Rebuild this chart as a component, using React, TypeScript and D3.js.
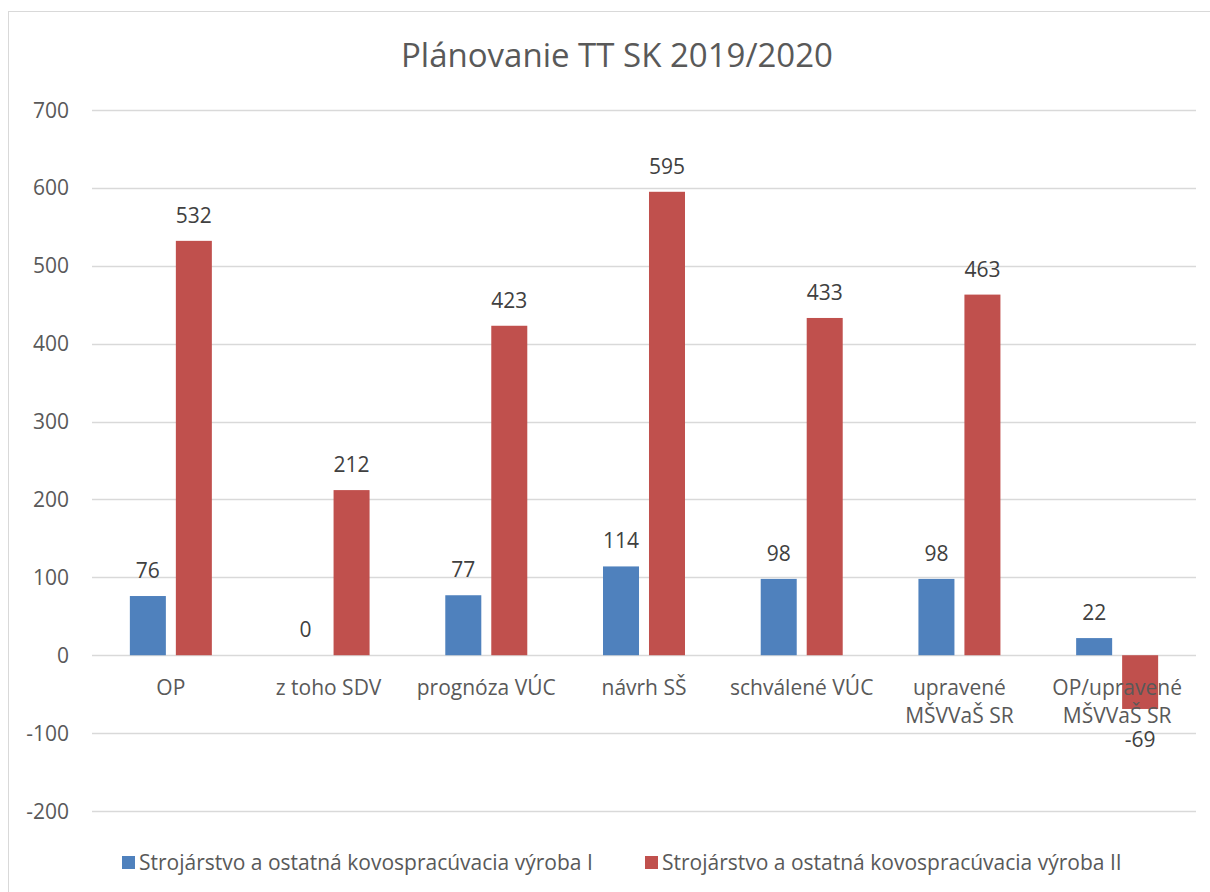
import { useEffect, useRef } from "react";
import * as d3 from "d3";

const categories = [
  ["OP"],
  ["z toho SDV"],
  ["prognóza VÚC"],
  ["návrh SŠ"],
  ["schválené VÚC"],
  ["upravené", "MŠVVaŠ SR"],
  ["OP/upravené", "MŠVVaŠ SR"],
];
const seriesNames = [
  "Strojárstvo a ostatná kovospracúvacia výroba I",
  "Strojárstvo a ostatná kovospracúvacia výroba II",
];
const seriesI = [76, 0, 77, 114, 98, 98, 22];
const seriesII = [532, 212, 423, 595, 433, 463, -69];
const yTicks = [-200, -100, 0, 100, 200, 300, 400, 500, 600, 700];

const colors = ["#4F81BD", "#C0504D"];
const font = "'Open Sans', sans-serif";

export default function App() {
  const ref = useRef<SVGSVGElement>(null);

  useEffect(() => {
    const svg = d3.select(ref.current);
    svg.selectAll("*").remove();

    const left = 92,
      right = 1196,
      top = 110,
      bottom = 811;

    svg
      .append("rect")
      .attr("x", 8.5)
      .attr("y", 11.5)
      .attr("width", 1300)
      .attr("height", 1000)
      .attr("fill", "#fff")
      .attr("stroke", "#d9d9d9");

    const y = d3.scaleLinear().domain([-200, 700]).range([bottom, top]);
    const x0 = d3
      .scaleBand<number>()
      .domain(d3.range(categories.length))
      .range([left, right]);
    const x1 = d3
      .scaleBand<number>()
      .domain([0, 1])
      .range([0, 82])
      .paddingInner(0.217);
    const groupOff = (x0.bandwidth() - 82) / 2;

    svg
      .append("text")
      .attr("x", 617)
      .attr("y", 67)
      .attr("text-anchor", "middle")
      .attr("font-family", font)
      .attr("font-size", 33)
      .attr("fill", "#595959")
      .text("Plánovanie TT SK 2019/2020");

    const grid = svg.append("g");
    grid
      .selectAll("line")
      .data(yTicks)
      .enter()
      .append("line")
      .attr("x1", left)
      .attr("x2", right)
      .attr("y1", (d) => Math.round(y(d)) + 0.5)
      .attr("y2", (d) => Math.round(y(d)) + 0.5)
      .attr("stroke", "#d9d9d9")
      .attr("stroke-width", 1.3);

    grid
      .selectAll("text")
      .data(yTicks)
      .enter()
      .append("text")
      .attr("x", 69)
      .attr("y", (d) => y(d) + 7.5)
      .attr("text-anchor", "end")
      .attr("font-family", font)
      .attr("font-size", 21)
      .attr("fill", "#595959")
      .text((d) => d);

    const series = [seriesI, seriesII];
    series.forEach((vals, si) => {
      const g = svg.append("g");
      g.selectAll("rect")
        .data(vals)
        .enter()
        .append("rect")
        .attr("x", (_, i) => x0(i)! + groupOff + x1(si)!)
        .attr("width", x1.bandwidth())
        .attr("y", (d) => y(Math.max(0, d)))
        .attr("height", (d) => Math.abs(y(d) - y(0)))
        .attr("fill", colors[si]);
      g.selectAll("text")
        .data(vals)
        .enter()
        .append("text")
        .attr("x", (_, i) => x0(i)! + groupOff + x1(si)! + x1.bandwidth() / 2)
        .attr("y", (d) => (d >= 0 ? y(d) - 18 : y(d) + 38))
        .attr("text-anchor", "middle")
        .attr("font-family", font)
        .attr("font-size", 21)
        .attr("fill", "#404040")
        .text((d) => d);
    });

    const cat = svg.append("g");
    categories.forEach((lines, i) => {
      const t = cat
        .append("text")
        .attr("x", x0(i)! + x0.bandwidth() / 2)
        .attr("y", 695)
        .attr("text-anchor", "middle")
        .attr("font-family", font)
        .attr("font-size", 21)
        .attr("fill", "#595959");
      lines.forEach((l, li) => {
        t.append("tspan")
          .attr("x", x0(i)! + x0.bandwidth() / 2)
          .attr("dy", li === 0 ? 0 : 28)
          .text(l);
      });
    });

    const legendX = [122, 645];
    const lg = svg.append("g");
    seriesNames.forEach((name, i) => {
      lg.append("rect")
        .attr("x", legendX[i])
        .attr("y", 856)
        .attr("width", 13)
        .attr("height", 13)
        .attr("fill", colors[i]);
      lg.append("text")
        .attr("x", legendX[i] + 17)
        .attr("y", 870)
        .attr("font-family", font)
        .attr("font-size", 21)
        .attr("fill", "#595959")
        .text(name);
    });
  }, []);

  return (
    <svg
      ref={ref}
      width={1210}
      height={892}
      style={{ position: "fixed", left: 0, top: 0 }}
    />
  );
}
